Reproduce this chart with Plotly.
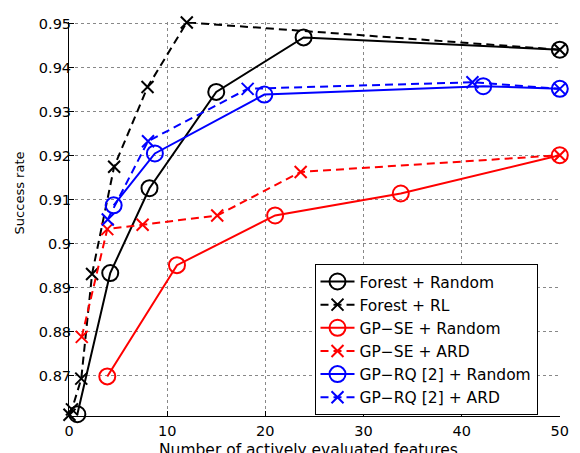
import plotly.graph_objects as go

# Success rate versus number of actively evaluated features
forest_random_x = [0.85, 4.2, 8.2, 15.0, 23.9, 50]
forest_random_y = [0.8612, 0.8933, 0.9126, 0.9345, 0.9469, 0.9441]

forest_rl_x = [0.05, 0.3, 1.25, 2.35, 4.6, 8.0, 12.0, 50]
forest_rl_y = [0.8611, 0.8623, 0.8693, 0.8931, 0.9175, 0.9356, 0.9503, 0.9441]

gpse_random_x = [3.9, 11.0, 21.0, 33.8, 50]
gpse_random_y = [0.8698, 0.8951, 0.9064, 0.9114, 0.9201]

gpse_ard_x = [1.3, 3.9, 7.5, 15.1, 23.6, 50]
gpse_ard_y = [0.8788, 0.9033, 0.9043, 0.9064, 0.9163, 0.9201]

gprq_random_x = [4.55, 8.75, 19.9, 42.2, 50]
gprq_random_y = [0.9087, 0.9205, 0.9339, 0.9358, 0.9352]

gprq_ard_x = [3.95, 8.05, 18.2, 41.1, 50]
gprq_ard_y = [0.9055, 0.9233, 0.9352, 0.9367, 0.9352]

x_ticks = [0, 10, 20, 30, 40, 50]
y_ticks = [0.87, 0.88, 0.89, 0.90, 0.91, 0.92, 0.93, 0.94, 0.95]
y_tick_text = ["0.87", "0.88", "0.89", "0.9", "0.91", "0.92", "0.93", "0.94", "0.95"]

FONT = "DejaVu Sans"
DASH = "8px,5px"

series = [
    ("Forest + Random", forest_random_x, forest_random_y, "black", "solid", "circle-open"),
    ("Forest + RL", forest_rl_x, forest_rl_y, "black", DASH, "x-thin-open"),
    ("GP\u2212SE + Random", gpse_random_x, gpse_random_y, "#ff0000", "solid", "circle-open"),
    ("GP\u2212SE + ARD", gpse_ard_x, gpse_ard_y, "#ff0000", DASH, "x-thin-open"),
    ("GP\u2212RQ [2] + Random", gprq_random_x, gprq_random_y, "#0000ff", "solid", "circle-open"),
    ("GP\u2212RQ [2] + ARD", gprq_ard_x, gprq_ard_y, "#0000ff", DASH, "x-thin-open"),
]

fig = go.Figure()
for name, xs, ys, color, dash, symbol in series:
    is_circle = symbol.startswith("circle")
    fig.add_trace(go.Scatter(
        x=xs, y=ys, name=name, mode="lines+markers",
        line=dict(color=color, width=2, dash=dash),
        marker=dict(symbol=symbol, size=16 if is_circle else 12,
                    color=color, line=dict(color=color, width=2)),
        cliponaxis=False,
    ))

axis_common = dict(
    showline=True, linecolor="black", linewidth=1,
    ticks="inside", ticklen=5, tickcolor="black",
    showgrid=True, gridcolor="#888", griddash="dot", gridwidth=1,
    zeroline=False, mirror=False,
    tickfont=dict(family=FONT, size=14.5, color="black"),
)

fig.update_layout(
    width=580, height=453,
    margin=dict(l=68.5, r=10.7, t=22.2, b=37),
    paper_bgcolor="white", plot_bgcolor="white",
    font=dict(family=FONT, color="black"),
    showlegend=True,
    legend=dict(
        x=0.5, y=0.386, xanchor="left", yanchor="top",
        bgcolor="white", bordercolor="black", borderwidth=1,
        font=dict(family=FONT, size=15.5, color="black"),
        itemwidth=34, tracegroupgap=0,
    ),
    xaxis=dict(range=[0, 50.02], tickvals=x_ticks, ticklabelstandoff=2, **axis_common),
    yaxis=dict(range=[0.8608, 0.9504], tickvals=y_ticks, ticktext=y_tick_text,
               ticklabelstandoff=-6, **axis_common),
    annotations=[
        dict(text="Number of actively evaluated features", xref="paper", yref="paper",
             x=0.488, y=0, yshift=-23, xanchor="center", yanchor="top", showarrow=False,
             font=dict(family=FONT, size=15.5, color="black")),
        dict(text="Success rate", xref="paper", yref="paper",
             x=0, xshift=-50, y=0.565, xanchor="center", yanchor="middle", showarrow=False,
             textangle=-90, font=dict(family=FONT, size=13, color="black")),
    ],
)

fig.write_html("out.html")
